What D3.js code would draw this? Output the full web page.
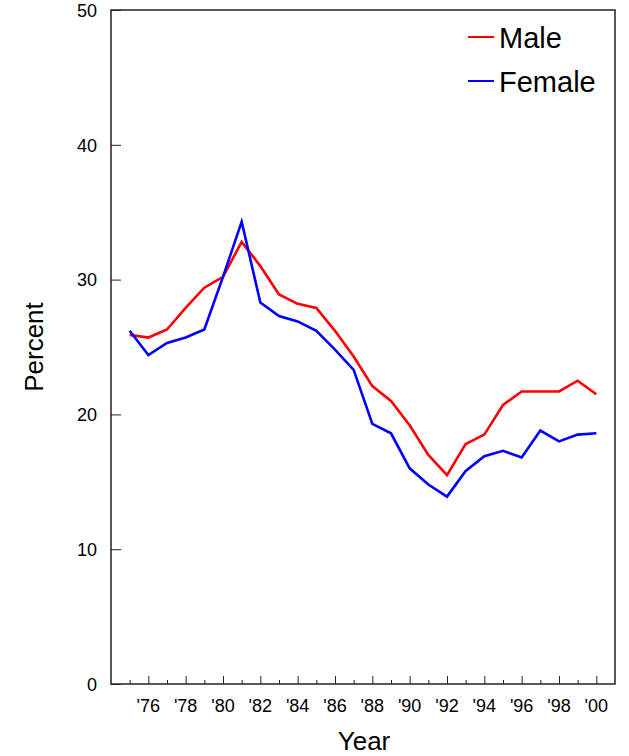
<!DOCTYPE html>
<html>
<head>
<meta charset="utf-8">
<script src="https://cdn.jsdelivr.net/npm/d3@7"></script>
<style>
  body { margin: 0; background: #fff; }
  text { font-family: Arial, "Liberation Sans", sans-serif; fill: #000; }
</style>
</head>
<body>
<div id="chart"></div>
<script>
// Chart data
const years = [1975, 1976, 1977, 1978, 1979, 1980, 1981, 1982, 1983, 1984, 1985, 1986, 1987,
               1988, 1989, 1990, 1991, 1992, 1993, 1994, 1995, 1996, 1997, 1998, 1999, 2000];
const male = [25.9, 25.7, 26.3, 27.9, 29.4, 30.2, 32.8, 31.0, 28.9, 28.2, 27.9, 26.2, 24.3,
              22.1, 21.0, 19.2, 17.0, 15.5, 17.8, 18.5, 20.7, 21.7, 21.7, 21.7, 22.5, 21.5];
const female = [26.2, 24.4, 25.3, 25.7, 26.3, 30.2, 34.3, 28.3, 27.3, 26.9, 26.2, 24.8, 23.3,
                19.3, 18.6, 16.0, 14.8, 13.9, 15.8, 16.9, 17.3, 16.8, 18.8, 18.0, 18.5, 18.6];
const yTicks = [0, 10, 20, 30, 40, 50];
const labelYears = [1976, 1978, 1980, 1982, 1984, 1986, 1988, 1990, 1992, 1994, 1996, 1998, 2000];

const width = 629;
const height = 756;
const margin = { top: 10, right: 14, bottom: 72, left: 111 };

const svg = d3.select("#chart")
    .append("svg")
    .attr("width", width)
    .attr("height", height);

const x = d3.scaleLinear()
    .domain([1974, 2001])
    .range([margin.left, width - margin.right]);

const y = d3.scaleLinear()
    .domain([0, 50])
    .range([height - margin.bottom, margin.top]);

// frame
svg.append("rect")
    .attr("x", margin.left)
    .attr("y", margin.top)
    .attr("width", x(2001) - x(1974))
    .attr("height", y(0) - y(50))
    .attr("fill", "none")
    .attr("stroke", "#222")
    .attr("stroke-width", 1.5);

// y axis, ticks pointing inward
const yAxis = svg.append("g")
    .attr("transform", `translate(${margin.left},0)`)
    .call(d3.axisRight(y).tickValues(yTicks).tickSize(10).tickFormat(d3.format("d")));
yAxis.select(".domain").remove();
yAxis.selectAll("line").attr("stroke", "#222");
yAxis.selectAll("text")
    .attr("x", -14)
    .attr("dy", "0.35em")
    .style("text-anchor", "end")
    .style("font-size", "18px");

// x axis: major ticks on even years, minor on odd
const allYears = d3.range(1975, 2001);
const xAxis = svg.append("g")
    .attr("transform", `translate(0,${y(0)})`)
    .call(d3.axisTop(x).tickValues(allYears)
        .tickSize(0)
        .tickFormat(""));
xAxis.select(".domain").remove();
xAxis.selectAll(".tick line")
    .attr("stroke", "#222")
    .attr("y2", d => d % 2 === 0 ? -8 : -4);

svg.append("g")
    .selectAll("text")
    .data(labelYears)
    .enter()
    .append("text")
    .attr("x", x)
    .attr("y", y(0) + 28)
    .style("text-anchor", "middle")
    .style("font-size", "18px")
    .text(d => "'" + String(d).slice(2));

// axis titles
svg.append("text")
    .attr("x", 364)
    .attr("y", 750)
    .style("text-anchor", "middle")
    .style("font-size", "26px")
    .text("Year");

svg.append("text")
    .attr("transform", `translate(43, ${y(25)}) rotate(-90)`)
    .style("text-anchor", "middle")
    .style("font-size", "26px")
    .text("Percent");

// lines
const series = [
    { name: "Male", values: male, color: "#ff0000" },
    { name: "Female", values: female, color: "#0000ff" }
];

const line = d3.line()
    .x((d, i) => x(years[i]))
    .y(d => y(d));

svg.selectAll(".series")
    .data(series)
    .enter()
    .append("path")
    .attr("class", "series")
    .attr("fill", "none")
    .attr("stroke", d => d.color)
    .attr("stroke-width", 2.6)
    .attr("d", d => line(d.values));

// legend
const legend = svg.append("g")
    .selectAll("g")
    .data(series)
    .enter()
    .append("g")
    .attr("transform", (d, i) => `translate(468, ${37 + i * 44})`);

legend.append("line")
    .attr("x1", 0)
    .attr("x2", 26)
    .attr("stroke", d => d.color)
    .attr("stroke-width", 2);

legend.append("text")
    .attr("x", 31)
    .attr("y", 11)
    .style("font-size", "29px")
    .text(d => d.name);
</script>
</body>
</html>
